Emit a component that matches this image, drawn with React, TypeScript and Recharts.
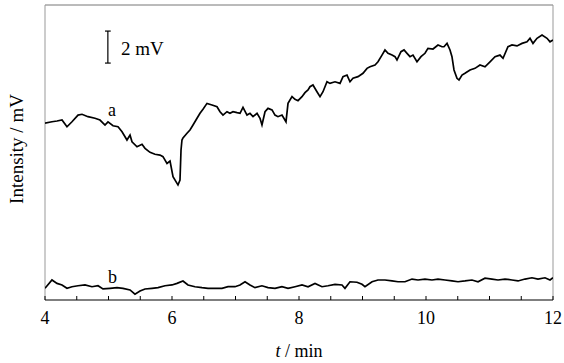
import { Line, LineChart, ReferenceLine, XAxis, YAxis } from "recharts";

// trace a: time (min) and intensity (mV, arbitrary baseline)
const timeA = [
  4.0, 4.11, 4.189, 4.268, 4.346, 4.425, 4.52, 4.583, 4.677, 4.787, 4.866, 4.945, 4.992, 5.071, 5.15, 5.213,
  5.291, 5.339, 5.37, 5.449, 5.528, 5.575, 5.654, 5.732, 5.811, 5.858, 5.921, 5.969, 6.016, 6.079, 6.094, 6.126,
  6.142, 6.157, 6.173, 6.236, 6.283, 6.331, 6.394, 6.441, 6.488, 6.551, 6.63, 6.709, 6.756, 6.803, 6.866, 6.913,
  6.961, 7.024, 7.071, 7.118, 7.181, 7.228, 7.276, 7.339, 7.386, 7.417, 7.465, 7.512, 7.575, 7.622, 7.669, 7.732,
  7.795, 7.827, 7.89, 7.937, 7.984, 8.047, 8.094, 8.142, 8.173, 8.22, 8.283, 8.331, 8.378, 8.441, 8.488, 8.567,
  8.646, 8.693, 8.756, 8.803, 8.85, 8.929, 9.008, 9.071, 9.118, 9.197, 9.244, 9.307, 9.354, 9.402, 9.465, 9.512,
  9.543, 9.606, 9.654, 9.701, 9.748, 9.795, 9.858, 9.921, 9.984, 10.031, 10.11, 10.189, 10.252, 10.283, 10.331,
  10.378, 10.409, 10.441, 10.488, 10.52, 10.567, 10.614, 10.693, 10.772, 10.85, 10.929, 11.008, 11.087, 11.165,
  11.213, 11.291, 11.354, 11.433, 11.512, 11.591, 11.638, 11.685, 11.748, 11.827, 11.906, 11.953, 12.0,
];
const intensityA = [
  11.06, 11.14, 11.19, 11.25, 10.83, 11.14, 11.56, 11.61, 11.46, 11.36, 11.25, 10.94, 11.13, 10.89, 10.83, 10.52,
  10.0, 10.31, 9.89, 9.58, 9.73, 9.48, 9.23, 9.11, 9.06, 8.96, 8.54, 8.69, 7.71, 7.29, 7.19, 7.5,
  9.38, 10.0, 10.13, 10.42, 10.63, 10.94, 11.36, 11.67, 11.92, 12.29, 12.19, 12.08, 11.77, 11.56, 11.77, 11.67,
  11.77, 11.71, 11.67, 12.04, 11.56, 11.67, 11.46, 11.67, 11.36, 10.94, 11.77, 11.98, 11.88, 11.56, 11.46, 11.56,
  11.14, 12.29, 12.71, 12.54, 12.46, 12.71, 12.96, 13.13, 13.33, 13.44, 13.02, 12.71, 13.02, 13.64, 13.54, 13.64,
  13.54, 13.96, 14.06, 13.64, 13.86, 13.96, 14.17, 14.48, 14.58, 14.69, 14.89, 15.31, 15.63, 15.42, 15.31, 15.21,
  15.0, 15.52, 15.63, 15.42, 15.21, 15.31, 14.89, 15.21, 15.42, 15.73, 15.69, 15.94, 15.83, 15.83, 16.04,
  15.63, 15.21, 14.38, 13.86, 13.75, 14.06, 14.17, 14.38, 14.48, 14.69, 14.58, 14.89, 15.21, 15.31,
  15.11, 15.83, 15.94, 15.88, 16.04, 16.14, 16.36, 16.04, 16.36, 16.56, 16.36, 16.14, 16.25,
];

// trace b
const timeB = [
  4.0, 4.11, 4.189, 4.268, 4.346, 4.425, 4.52, 4.63, 4.74, 4.835, 4.913, 5.024, 5.134, 5.228, 5.339, 5.417,
  5.496, 5.575, 5.685, 5.78, 5.89, 6.0, 6.079, 6.173, 6.252, 6.362, 6.472, 6.567, 6.677, 6.787, 6.882, 6.992,
  7.071, 7.15, 7.228, 7.307, 7.417, 7.512, 7.622, 7.732, 7.827, 7.937, 8.047, 8.142, 8.252, 8.362, 8.457, 8.567,
  8.677, 8.724, 8.803, 8.913, 8.992, 9.039, 9.15, 9.244, 9.354, 9.465, 9.559, 9.669, 9.78, 9.874, 9.984, 10.094,
  10.189, 10.299, 10.409, 10.504, 10.614, 10.724, 10.819, 10.929, 11.039, 11.134, 11.244, 11.354, 11.449, 11.559,
  11.669, 11.764, 11.874, 11.953, 12.0,
];
const intensityB = [
  0.73, 1.25, 1.04, 0.94, 0.73, 0.83, 0.89, 0.94, 0.83, 0.89, 0.69, 0.73, 0.77, 0.73, 0.63, 0.36,
  0.56, 0.69, 0.73, 0.77, 0.89, 0.94, 1.04, 1.19, 0.94, 0.83, 0.77, 0.73, 0.73, 0.73, 0.83, 0.83,
  0.94, 1.14, 0.94, 0.77, 0.89, 0.77, 0.73, 0.83, 0.73, 0.83, 0.94, 0.83, 1.04, 0.83, 0.89, 0.98,
  0.94, 0.73, 1.14, 1.11, 0.98, 0.83, 1.14, 1.25, 1.25, 1.19, 1.14, 1.14, 1.31, 1.25, 1.31, 1.25,
  1.31, 1.25, 1.19, 1.14, 1.19, 1.25, 1.14, 1.36, 1.31, 1.25, 1.31, 1.25, 1.19, 1.31,
  1.39, 1.31, 1.39, 1.25, 1.39,
];

const xTicks = [4, 4.5, 5, 5.5, 6, 6.5, 7, 7.5, 8, 8.5, 9, 9.5, 10, 10.5, 11, 11.5, 12];
const xLabels = [4, 6, 8, 10, 12];
const yTop = 18.44;

// scale bar: 2 mV
const barX = 4.99;
const barLow = 14.81;
const barHigh = 16.81;

const serif = "'Liberation Serif', 'DejaVu Serif', serif";

export default function App() {
  const seriesA = timeA.map((t, i) => ({ t, v: intensityA[i] }));
  const seriesB = timeB.map((t, i) => ({ t, v: intensityB[i] }));

  return (
    <div style={{ position: "absolute", left: 0, top: 0, width: 564, height: 363, background: "#fff", fontFamily: serif }}>
      <LineChart width={564} height={363} margin={{ top: 5, right: 11, bottom: 0, left: 45 }}>
        <XAxis
          type="number"
          dataKey="t"
          domain={[4, 12]}
          ticks={xTicks}
          interval={0}
          allowDataOverflow
          height={63}
          axisLine={{ stroke: "#000", strokeWidth: 1.2 }}
          tickLine={{ stroke: "#000" }}
          tickSize={-4}
          tickMargin={15}
          tickFormatter={(v: number) => (xLabels.includes(v) ? String(v) : "")}
          tick={{ fill: "#000", fontSize: 18, fontFamily: serif }}
        />
        <YAxis hide type="number" domain={[0, yTop]} allowDataOverflow />
        <ReferenceLine y={yTop} stroke="#777" />
        <ReferenceLine x={4} stroke="#999" />
        <ReferenceLine x={12} stroke="#999" />
        <ReferenceLine segment={[{ x: barX, y: barLow }, { x: barX, y: barHigh }]} stroke="#000" strokeWidth={1.2} />
        <ReferenceLine segment={[{ x: barX - 0.045, y: barLow }, { x: barX + 0.045, y: barLow }]} stroke="#000" strokeWidth={1.2} />
        <ReferenceLine segment={[{ x: barX - 0.045, y: barHigh }, { x: barX + 0.045, y: barHigh }]} stroke="#000" strokeWidth={1.2} />
        <Line data={seriesA} dataKey="v" type="linear" stroke="#000" strokeWidth={1.7} dot={false} isAnimationActive={false} />
        <Line data={seriesB} dataKey="v" type="linear" stroke="#000" strokeWidth={1.7} dot={false} isAnimationActive={false} />
      </LineChart>
      <svg width={564} height={363} style={{ position: "absolute", left: 0, top: 0, pointerEvents: "none" }}>
        <text x={121} y={55} fontSize={19} fontFamily={serif} fill="#000">2 mV</text>
        <text x={108} y={116} fontSize={18} fontFamily={serif} fill="#000">a</text>
        <text x={108} y={283} fontSize={18} fontFamily={serif} fill="#000">b</text>
        <text x={23} y={149} fontSize={19} fontFamily={serif} fill="#000" textAnchor="middle" transform="rotate(-90 23 149)">
          Intensity / mV
        </text>
        <text x={299} y={357} fontSize={18} fontFamily={serif} fill="#000" textAnchor="middle">
          <tspan fontStyle="italic">t</tspan> / min
        </text>
      </svg>
    </div>
  );
}
